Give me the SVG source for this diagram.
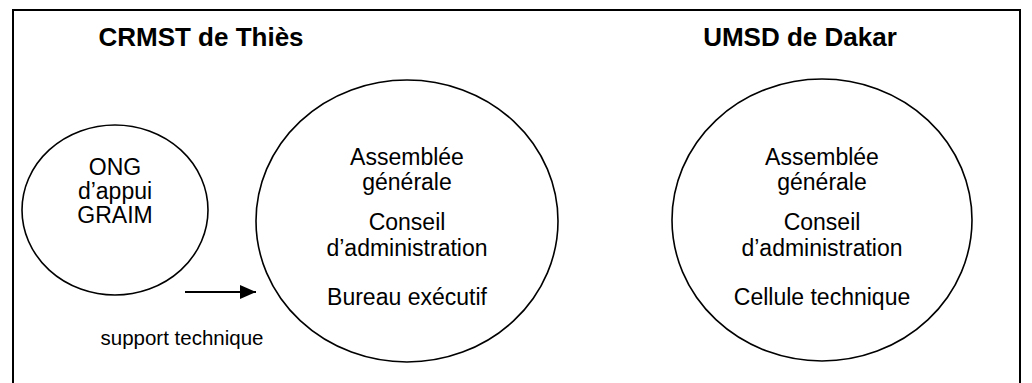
<svg xmlns="http://www.w3.org/2000/svg" width="1032" height="383" viewBox="0 0 1032 383">
  <style>
    .frame { fill: none; stroke: #000; stroke-width: 2; }
    .node { fill: #fff; stroke: #000; stroke-width: 1.6; }
    .title { font-family: "Liberation Sans", Arial, sans-serif; font-size: 26px; font-weight: bold; text-anchor: middle; fill: #000; }
    .body { font-family: "Liberation Sans", Arial, sans-serif; font-size: 23px; text-anchor: middle; fill: #000; }
    .small { font-family: "Liberation Sans", Arial, sans-serif; font-size: 20.5px; text-anchor: middle; fill: #000; }
    .link { stroke: #000; stroke-width: 2; fill: none; }
  </style>
  <defs>
    <marker id="arrow" viewBox="0 0 16 14" refX="16" refY="7" markerWidth="16" markerHeight="14" markerUnits="userSpaceOnUse" orient="auto">
      <path d="M0,0 L16,7 L0,14 Z" fill="#000"/>
    </marker>
  </defs>
  <rect width="1032" height="383" fill="#fff"/>
  <!-- outer frame, open at the bottom -->
  <path class="frame" d="M13,390 V10 H1020 V390"/>

  <!-- headings -->
  <text class="title" x="201" y="46">CRMST de Thiès</text>
  <text class="title" x="800" y="46">UMSD de Dakar</text>

  <g id="ong">
    <ellipse class="node" cx="115" cy="210" rx="93" ry="85"/>
    <text class="body" x="115" y="175">ONG</text>
    <text class="body" x="115" y="199">d’appui</text>
    <text class="body" x="115" y="223">GRAIM</text>
  </g>

  <g id="crmst">
    <ellipse class="node" cx="407" cy="221" rx="151" ry="141"/>
    <text class="body" x="407" y="165">Assemblée</text>
    <text class="body" x="407" y="190">générale</text>
    <text class="body" x="407" y="230">Conseil</text>
    <text class="body" x="407" y="256">d’administration</text>
    <text class="body" x="407" y="305">Bureau exécutif</text>
  </g>

  <g id="umsd">
    <ellipse class="node" cx="822" cy="220" rx="150" ry="141"/>
    <text class="body" x="822" y="165">Assemblée</text>
    <text class="body" x="822" y="190">générale</text>
    <text class="body" x="822" y="230">Conseil</text>
    <text class="body" x="822" y="256">d’administration</text>
    <text class="body" x="822" y="305">Cellule technique</text>
  </g>

  <g id="connectors">
    <line class="link" x1="185" y1="292" x2="256" y2="292" marker-end="url(#arrow)"/>
    <text class="small" x="182" y="345">support technique</text>
  </g>
</svg>
